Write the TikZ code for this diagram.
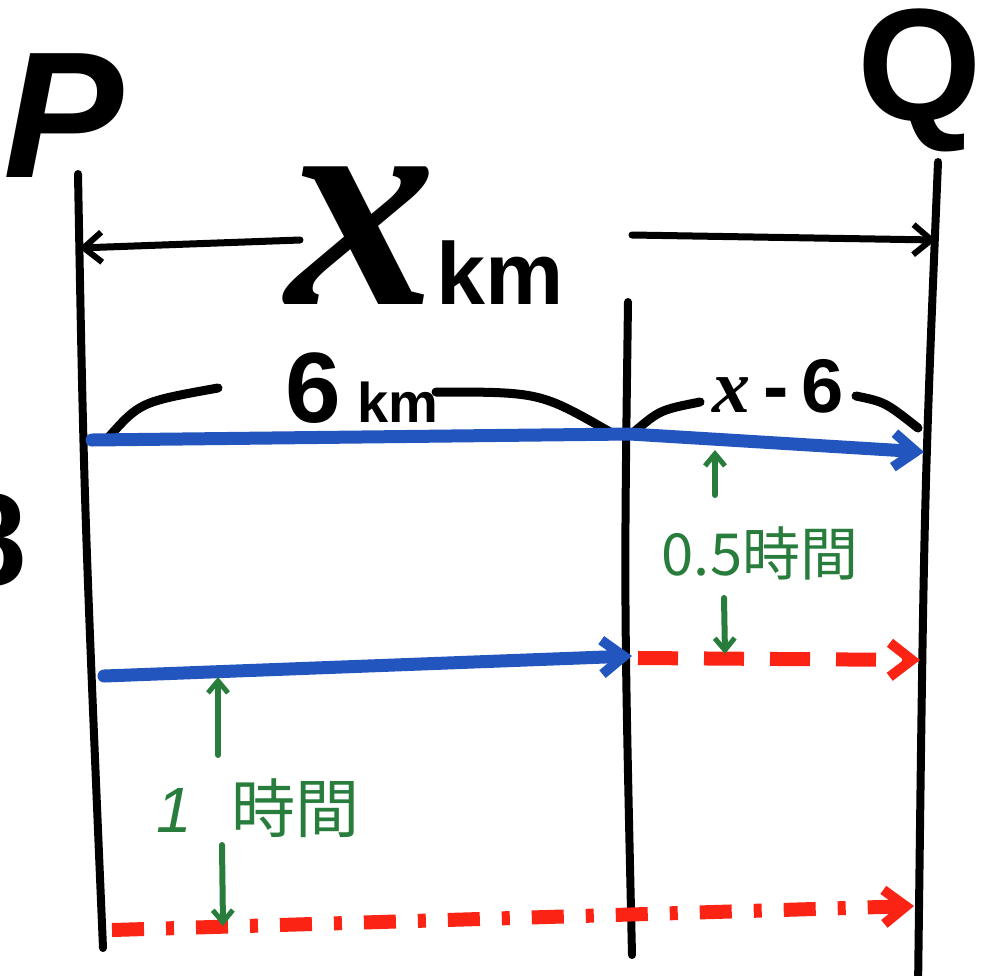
\documentclass[tikz,border=0pt]{standalone}
\usepackage{fontspec}
\newfontfamily\markfont{Liberation Sans}
\newfontfamily\curlfont{Liberation Serif}
\newfontfamily\jpfont{Noto Sans CJK JP}
\usetikzlibrary{arrows.meta, positioning}
\definecolor{penblue}{RGB}{35,85,190}
\definecolor{penred}{RGB}{250,35,20}
\definecolor{pengreen}{RGB}{40,125,60}

\begin{document}
\begin{tikzpicture}[
    x=0.5pt, y=-0.5pt,
    rail/.style={line width=4pt, line cap=round},
    dimarrow/.style={-{Straight Barb[length=9pt, width=15pt, line width=3pt]},
                     line width=3.5pt, line cap=round},
    brace/.style={line width=4.5pt, line cap=round},
    trip/.style={penblue, line width=6.5pt, line cap=round,
                 -{Straight Barb[length=11pt, width=17pt, line width=5pt]}},
    late/.style={penred, line width=7pt, dash pattern=on 20pt off 13pt,
                 -{Straight Barb[length=11pt, width=17pt, line width=5pt]}},
    gap/.style={pengreen, line width=3pt, line cap=round,
                -{Straight Barb[length=6pt, width=10pt, line width=2.5pt]}},
    bigletter/.style={font=\markfont\fontsize{80}{80}\selectfont\bfseries},
    dimlabel/.style={font=\markfont\bfseries, inner sep=0pt},
    timelabel/.style={text=pengreen, font=\jpfont\fontsize{29}{29}\selectfont, inner sep=0pt}
]
\fill[white] (0,0) rectangle (995,975);
\useasboundingbox (0,0) rectangle (995,975);

%% end points
\node[bigletter, font=\markfont\fontsize{90}{90}\selectfont\bfseries\itshape] (P) at (64,116) {P};
\node[bigletter] (Q) at (920,80) {Q};
\begin{scope}
  \clip (0,0) rectangle (995,975);
  \node[font=\markfont\fontsize{66}{66}\selectfont\bfseries] (cut8) at (-10,540) {8};
\end{scope}

%% rails
\coordinate (pTop) at (78,174);
\coordinate (pBot) at (103,948);
\coordinate (mTop) at (628,302);
\coordinate (mBot) at (632,955);
\coordinate (qTop) at (938,162);
\coordinate (qBot) at (918,990);
\draw[rail] (pTop) .. controls (84,500) .. (pBot);
\draw[rail] (mTop) .. controls (624,600) .. (mBot);
\draw[rail] (qTop) .. controls (924,500) .. (qBot);

%% whole distance
\node[dimlabel, anchor=base west, text depth=0pt, text height=60pt] (xkm) at (286,304)
    {{\curlfont\fontsize{150}{150}\selectfont\bfseries\itshape x}%
     \fontsize{44}{44}\selectfont km};
\coordinate (xL) at (79,248);
\coordinate (xLs) at (300,240);
\coordinate (xR) at (936,240);
\coordinate (xRs) at (632,235);
\draw[dimarrow] (xLs) -- (xL);
\draw[dimarrow] (xRs) -- (xR);

%% 6 km and x-6
\node[dimlabel, font=\markfont\bfseries\fontsize{50}{50}\selectfont] (six) at (362,388)
    {6\,{\fontsize{28}{28}\selectfont km}};
\node[dimlabel, font=\markfont\bfseries\fontsize{38}{38}\selectfont] (rest) at (778,386)
    {{\curlfont\bfseries\itshape x}\,-\,6};
\draw[brace] (108,438) .. controls (140,402) .. (218,388);
\draw[brace] (436,392) .. controls (540,392) .. (610,432);
\draw[brace] (634,432) .. controls (660,410) .. (700,402);
\draw[brace] (856,396) .. controls (885,402) .. (918,428);

%% trips
\coordinate (b1s) at (92,440);
\coordinate (b1m) at (630,434);
\coordinate (b1e) at (924,452);
\draw[trip] (b1s) -- (b1m) -- (b1e);
\coordinate (b2s) at (104,676);
\coordinate (b2e) at (632,656);
\draw[trip] (b2s) -- (b2e);
\coordinate (r1s) at (638,658);
\coordinate (r1e) at (920,660);
\draw[late] (r1s) -- (r1e);
\coordinate (r2s) at (112,930);
\coordinate (r2e) at (914,906);
\draw[late, dash pattern=on 16pt off 11pt on 4pt off 11pt] (r2s) -- (r2e);

%% time gaps
\node[timelabel] (half) at (760,553) {0.5時間};
\coordinate (h1s) at (715,495);
\coordinate (h1) at (715,450);
\coordinate (h2s) at (724,598);
\coordinate (h2) at (725,654);
\draw[gap] (h1s) -- (h1);
\draw[gap] (h2s) -- (h2);
\node[timelabel, font=\jpfont\fontsize{32}{32}\selectfont] (one) at (258,808)
    {\markfont\itshape 1\hspace{20pt}\jpfont 時間};
\coordinate (o1s) at (218,755);
\coordinate (o1) at (218,677);
\coordinate (o2s) at (222,845);
\coordinate (o2) at (223,926);
\draw[gap] (o1s) -- (o1);
\draw[gap] (o2s) -- (o2);
\end{tikzpicture}
\end{document}
